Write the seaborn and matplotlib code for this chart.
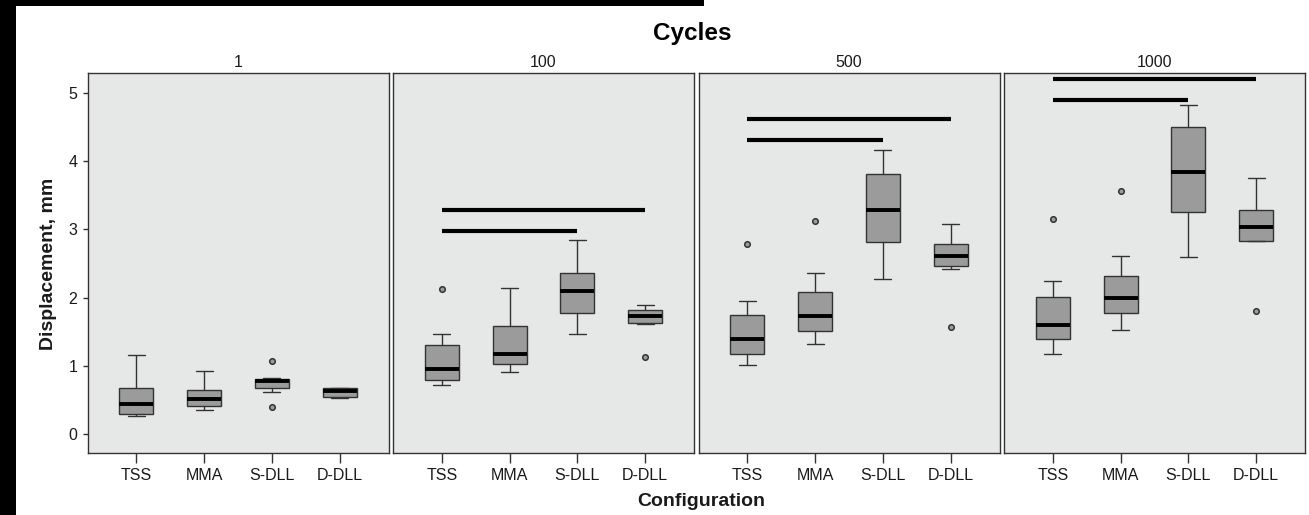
import numpy as np
import pandas as pd
import matplotlib
matplotlib.use("Agg")
import matplotlib.pyplot as plt
from matplotlib.patches import Rectangle
import seaborn as sns

# ---------------- data ----------------
cycles = ["1", "100", "500", "1000"]
configs = ["TSS", "MMA", "S-DLL", "D-DLL"]

# five-number summaries per cycle, in the order of `configs`
whisker_low = {"1": [0.27, 0.35, 0.61, 0.53],
               "100": [0.72, 0.905, 1.47, 1.61],
               "500": [1.01, 1.32, 2.27, 2.42],
               "1000": [1.17, 1.53, 2.59, 2.83]}
quart1 = {"1": [0.30, 0.415, 0.68, 0.55],
          "100": [0.79, 1.02, 1.78, 1.63],
          "500": [1.18, 1.51, 2.81, 2.46],
          "1000": [1.39, 1.77, 3.26, 2.83]}
median = {"1": [0.44, 0.51, 0.78, 0.63],
          "100": [0.95, 1.18, 2.10, 1.73],
          "500": [1.39, 1.73, 3.29, 2.61],
          "1000": [1.60, 1.99, 3.84, 3.04]}
quart3 = {"1": [0.68, 0.65, 0.80, 0.67],
          "100": [1.30, 1.585, 2.36, 1.82],
          "500": [1.75, 2.08, 3.81, 2.79],
          "1000": [2.01, 2.32, 4.50, 3.28]}
whisker_high = {"1": [1.164, 0.93, 0.82, 0.68],
                "100": [1.47, 2.14, 2.85, 1.89],
                "500": [1.95, 2.36, 4.16, 3.08],
                "1000": [2.25, 2.61, 4.82, 3.75]}
outlier_high = {"1": [None, None, 1.07, None],
                "100": [2.13, None, None, None],
                "500": [2.79, 3.13, None, None],
                "1000": [3.16, 3.56, None, None]}
outlier_low = {"1": [None, None, 0.39, None],
               "100": [None, None, None, 1.13],
               "500": [None, None, None, 1.57],
               "1000": [None, None, None, 1.80]}

# significance bars: (from config, to config, height)
sig_bars = {"1": [],
            "100": [("TSS", "D-DLL", 3.29), ("TSS", "S-DLL", 2.98)],
            "500": [("TSS", "D-DLL", 4.62), ("TSS", "S-DLL", 4.31)],
            "1000": [("TSS", "D-DLL", 5.21), ("TSS", "S-DLL", 4.90)]}

y_ticks = [0, 1, 2, 3, 4, 5]

# -------- rebuild per-box observations reproducing the summaries --------
rows = []
for c in cycles:
    for i, cfg in enumerate(configs):
        lo, q1, md, q3, hi = (whisker_low[c][i], quart1[c][i], median[c][i],
                              quart3[c][i], whisker_high[c][i])
        olo = outlier_low[c][i] if outlier_low[c][i] is not None else lo
        ohi = outlier_high[c][i] if outlier_high[c][i] is not None else hi
        vals = [olo, lo, q1, q1, md, md, md, md, q3, q3, q3, hi, ohi]
        for v in vals:
            rows.append({"Cycles": c, "Configuration": cfg, "value": v})
df = pd.DataFrame(rows)

# ---------------- style ----------------
sns.set_theme(style="ticks")
plt.rcParams["font.family"] = ["Liberation Sans", "DejaVu Sans"]
plt.rcParams["axes.facecolor"] = "#e6e7e7"
plt.rcParams["axes.edgecolor"] = "#333333"
plt.rcParams["axes.linewidth"] = 1.0

W, H = 1309, 515
fig = plt.figure(figsize=(W / 100, H / 100), dpi=100)
fig.patch.set_facecolor("white")

# crop artifacts in the reference
fig.add_artist(Rectangle((0, 0), 16 / W, 1, transform=fig.transFigure,
                         facecolor="black", edgecolor="none", zorder=10))
fig.add_artist(Rectangle((0, 1 - 6 / H), 704 / W, 6 / H, transform=fig.transFigure,
                         facecolor="black", edgecolor="none", zorder=10))

lefts = [87.5, 393.0, 698.5, 1004.0]
pw = 301.0
top, bottom = 72.7, 452.7

text_col = "#1a1a1a"
for k, c in enumerate(cycles):
    ax = fig.add_axes([lefts[k] / W, (H - bottom) / H, pw / W, (bottom - top) / H])
    sub = df[df["Cycles"] == c]
    sns.boxplot(data=sub, x="Configuration", y="value", order=configs, ax=ax,
                color="#9b9b9b", linecolor="#333333", linewidth=1.0, width=0.5,
                whis=1.5, saturation=1,
                medianprops=dict(color="black", linewidth=2.8),
                flierprops=dict(marker="o", markersize=4, markerfacecolor="#9b9b9b",
                                markeredgecolor="#333333", markeredgewidth=1.1))
    for (a, b, yv) in sig_bars[c]:
        ax.plot([configs.index(a), configs.index(b)], [yv, yv], color="black",
                linewidth=3.0, solid_capstyle="butt", zorder=5)
    ax.set_xlim(-0.72, 3.72)
    ax.set_ylim(-0.274, 5.30)
    ax.set_yticks(y_ticks)
    ax.set_xlabel("")
    ax.set_ylabel("")
    ax.grid(False)
    for sp in ax.spines.values():
        sp.set_visible(True)
        sp.set_color("#333333")
        sp.set_linewidth(1.0)
    ax.tick_params(axis="x", length=7.2, width=1.0, color="#333333", pad=4,
                   labelsize=11.5, labelcolor=text_col)
    ax.tick_params(axis="y", length=3.4, width=1.0, color="#333333", pad=4,
                   labelsize=11.5, labelcolor=text_col)
    if k > 0:
        ax.tick_params(axis="y", left=False, labelleft=False)
    ax.set_title(c, fontsize=11.5, color=text_col, pad=4.3)

fig.text(692 / W, 1 - 40 / H, "Cycles", ha="center", va="baseline",
         fontsize=17.5, fontweight="bold", color="black")
fig.text(701 / W, 1 - 505.7 / H, "Configuration", ha="center", va="baseline",
         fontsize=14, fontweight="bold", color=text_col)
fig.text(48.3 / W, 1 - 264 / H, "Displacement, mm", ha="center", va="center",
         rotation=90, fontsize=14, fontweight="bold", color=text_col)

fig.savefig("out.png", dpi=100)
